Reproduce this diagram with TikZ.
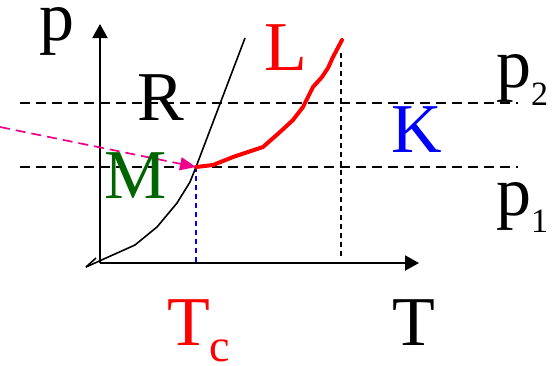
\documentclass[tikz,border=0pt]{standalone}
\usepackage{fontspec}
\setmainfont{Liberation Serif}
\usetikzlibrary{arrows.meta}
\definecolor{mgreen}{RGB}{0,100,0}
\begin{document}
\begin{tikzpicture}[x=1pt,y=-1pt,
  lbl/.style={inner sep=0pt,anchor=base west,font=\fontsize{70}{70}\selectfont},
  axis/.style={line width=2pt,-{Triangle[length=14pt,width=15pt]}},
  hdash/.style={line width=1.6pt,dash pattern=on 10pt off 6pt},
  vdash/.style={line width=1.5pt,dash pattern=on 5pt off 4pt}]
\useasboundingbox (0,0) rectangle (557,365);
% coordinates
\coordinate (O) at (100,263);
\coordinate (Ytop) at (100,24);
\coordinate (Xend) at (419,263);
\coordinate (C) at (196,167);
\coordinate (S0) at (86,267);
\coordinate (S1) at (135,245);
\coordinate (Stop) at (245,38);
\coordinate (P2a) at (20,103); \coordinate (P2b) at (518,103);
\coordinate (P1a) at (20,167); \coordinate (P1b) at (518,167);
\coordinate (V1) at (341,53); \coordinate (V2) at (341,258);
\coordinate (Cb) at (196,263);
\coordinate (Ltop) at (342,40);
\coordinate (Mg) at (0,127);
% dashed isobars
\draw[hdash] (P2a) -- (P2b);
\draw[hdash] (P1a) -- (P1b);
\draw[vdash] (V1) -- (V2);
\draw[vdash,blue] (C) -- (Cb);
% axes
\draw[axis] (O) -- (Ytop);
\draw[axis] (O) -- (Xend);
% black curve
\draw[line width=1.6pt,line join=round] (S0) -- (S1) -- (157,227) -- (177,203) -- (190,182) -- (C) -- (Stop);
\draw[line width=1.6pt] (S0) -- (96,258);
% red curve
\draw[red,line width=4pt,line join=round,line cap=round]
  (C) -- (213,165) -- (233,157) -- (263,147) -- (280,132) -- (293,120)
  -- (303,107) -- (309,95) -- (313,87) -- (322,77) -- (328,68) -- (333,57) -- (Ltop);
% magenta arrow
\draw[magenta,line width=1.7pt,dash pattern=on 10pt off 6pt,
  -{Triangle[length=16pt,width=13pt]}] (Mg) -- (C);
% labels
\node[lbl] (p) at (39,40) {p};
\node[lbl] (R) at (137,120) {R};
\node[lbl,text=mgreen] (M) at (104,198) {M};
\node[lbl,text=red] (L) at (264,70) {L};
\node[lbl,text=blue] (K) at (391,152) {K};
\node[lbl] (p2) at (496,87) {p\raisebox{-18pt}{\fontsize{34}{34}\selectfont 2}};
\node[lbl] (p1) at (496,215) {p\raisebox{-17pt}{\fontsize{34}{34}\selectfont 1}};
\node[lbl] (T) at (392,345) {T};
\node[lbl,text=red] (Tc) at (167,345) {T\raisebox{-16pt}{\fontsize{46}{46}\selectfont c}};
\end{tikzpicture}
\end{document}
